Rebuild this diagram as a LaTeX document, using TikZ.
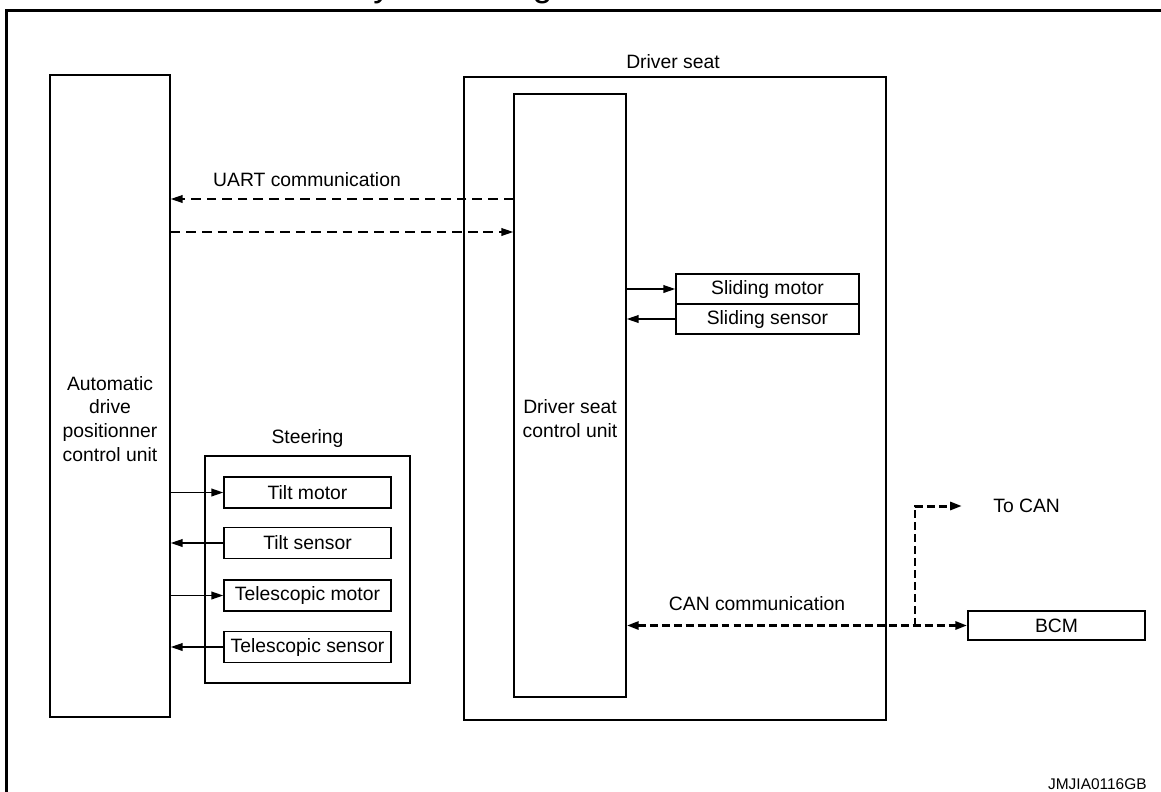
\documentclass[tikz,border=0pt]{standalone}
\usepackage{fontspec}
\setmainfont{Liberation Sans}
\usetikzlibrary{arrows.meta}
\tikzset{
  lbl/.style={font=\fontsize{11}{13.6}\selectfont, align=center, inner sep=0pt},
  unit/.style={draw, line width=0.85pt, inner sep=0pt},
  part/.style={unit, lbl, minimum width=3.34cm, minimum height=0.62cm},
  sig/.style={line width=0.85pt, -{Triangle[length=6.8pt,width=4.4pt]}},
  uart/.style={sig, dash pattern=on 5.5pt off 3.4pt},
  can/.style={line width=1.7pt, dash pattern=on 4.5pt off 2.3pt}
}
\begin{document}
\begin{tikzpicture}[x=0.02cm, y=-0.02cm]
\useasboundingbox (0,0) rectangle (1161,792);
% page frame and title
\draw[line width=2pt] (6.5,900) -- (6.5,10.5) -- (1300,10.5);
\node[anchor=base west, inner sep=0pt, font=\fontsize{20.4}{24}\selectfont] (title) at (349,-3.6) {System Diagram};

% Automatic drive positioner control unit
\node[unit, minimum width=2.4cm, minimum height=12.84cm] (adp) at (110,396) {};
\node[lbl] (adptext) at (110,419) {Automatic\\drive\\positionner\\control unit};

% Driver seat
\node[unit, minimum width=8.44cm, minimum height=12.86cm] (seat) at (675,398.5) {};
\node[lbl] (seatlbl) at (673,62) {Driver seat};
\node[unit, minimum width=2.24cm, minimum height=12.06cm] (dscu) at (570,395.5) {};
\node[lbl] (dscutext) at (570,419) {Driver seat\\control unit};
\node[part, minimum width=3.66cm, minimum height=0.6cm] (smotor) at (767.5,289) {Sliding motor};
\node[part, minimum width=3.66cm, minimum height=0.6cm] (ssensor) at (767.5,319) {Sliding sensor};

% Steering
\node[unit, minimum width=4.1cm, minimum height=4.54cm] (steer) at (307.5,569.5) {};
\node[lbl] (steerlbl) at (307.5,438) {Steering};
\node[part] (tmotor) at (307.5,492.5) {Tilt motor};
\node[part] (tsensor) at (307.5,543) {Tilt sensor};
\node[part] (tlmotor) at (307.5,595.5) {Telescopic motor};
\node[part] (tlsensor) at (307.5,647) {Telescopic sensor};

% BCM
\node[part, minimum width=3.54cm, minimum height=0.58cm] (bcm) at (1056.5,625.5) {BCM};

% UART communication
\node[lbl] (uartlbl) at (307,180) {UART communication};
\draw[uart] (dscu.west |- 0,199) -- (adp.east |- 0,199);
\draw[uart] (adp.east |- 0,232) -- (dscu.west |- 0,232);

% sliding motor and sensor
\draw[sig] (dscu.east |- smotor.west) -- (smotor.west);
\draw[sig] (ssensor.west) -- (dscu.east |- ssensor.west);

% tilt and telescopic
\draw[sig] (adp.east |- tmotor.west) -- (tmotor.west);
\draw[sig] (tsensor.west) -- (adp.east |- tsensor.west);
\draw[sig] (adp.east |- tlmotor.west) -- (tlmotor.west);
\draw[sig] (tlsensor.west) -- (adp.east |- tlsensor.west);

% CAN communication
\node[lbl] (canlbl) at (757,604) {CAN communication};
\node[lbl, anchor=west] (tocan) at (993,506) {To CAN};
\coordinate (canj) at (915,625.5);
\draw[can, {Triangle[length=6.8pt,width=4.5pt]}-{Triangle[length=6.8pt,width=4.5pt]}] (dscu.east |- bcm.west) -- (bcm.west);
\draw[can, -{Triangle[length=6.8pt,width=4.5pt]}] (canj) |- ([xshift=-0.62cm]tocan.west);

\node[anchor=east, inner sep=0pt, font=\fontsize{8.8}{10}\selectfont] (figid) at (1147,784) {JMJIA0116GB};
\end{tikzpicture}
\end{document}
